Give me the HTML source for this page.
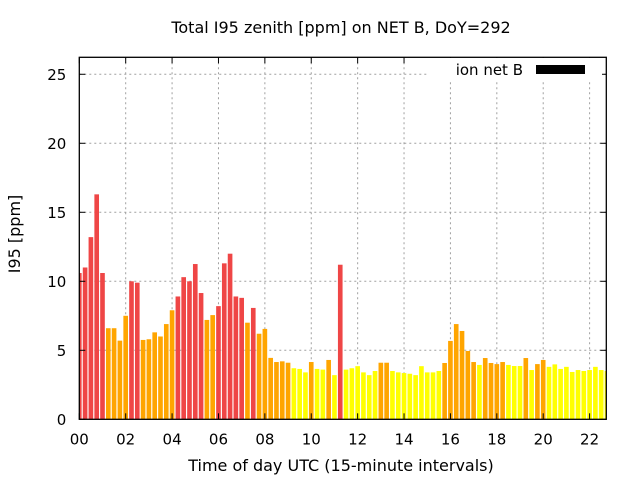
<!DOCTYPE html>
<html><head><meta charset="utf-8"><style>
body{margin:0;background:#fff;}
svg{display:block;font-family:"DejaVu Sans","Liberation Sans",sans-serif;}
</style></head><body>
<svg id="chart" width="640" height="480" viewBox="0 0 640 480">
<rect width="640" height="480" fill="#fff"/>
<text x="341" y="33" text-anchor="middle" font-size="16">Total I95 zenith [ppm] on NET B, DoY=292</text>
<text x="341" y="471" text-anchor="middle" font-size="16">Time of day UTC (15-minute intervals)</text>
<text transform="translate(20,234) rotate(-90)" text-anchor="middle" font-size="16">I95 [ppm]</text>
<g id="grid"></g>
<g id="bars"></g>
<g id="axes"></g>
</svg>
<script>
const values = [10.6,11.0,13.2,16.3,10.6,6.6,6.6,5.7,7.5,10.0,9.9,5.75,5.8,6.3,6.0,6.9,7.9,8.9,10.3,10.0,11.25,9.15,7.2,7.55,8.2,11.3,12.0,8.9,8.8,7.0,8.07,6.2,6.55,4.45,4.15,4.2,4.1,3.7,3.65,3.4,4.15,3.65,3.6,4.3,3.2,11.2,3.6,3.7,3.85,3.4,3.2,3.5,4.1,4.1,3.5,3.4,3.35,3.3,3.2,3.85,3.4,3.4,3.5,4.08,5.68,6.9,6.4,4.95,4.15,3.94,4.44,4.08,4.0,4.15,3.94,3.86,3.86,4.44,3.57,4.0,4.3,3.8,3.98,3.65,3.8,3.43,3.57,3.5,3.57,3.8,3.57,3.5];
const xTicks = [0,2,4,6,8,10,12,14,16,18,20,22];
const xTickLabels = ["00","02","04","06","08","10","12","14","16","18","20","22"];
const yTicks = [0,5,10,15,20,25];
const xMin = 0, xMax = 22.72, yMin = 0, yMax = 26.23;
const L = 79.3, R = 606.3, T = 57.3, B = 419.3;
const NS = "http://www.w3.org/2000/svg";
function xs(h){return L + (h - xMin) / (xMax - xMin) * (R - L);}
function ys(v){return B - (v - yMin) / (yMax - yMin) * (B - T);}
function mk(tag, attrs, parent){const e=document.createElementNS(NS,tag);for(const k in attrs)e.setAttribute(k,attrs[k]);parent.appendChild(e);return e;}
const grid=document.getElementById('grid'), bars=document.getElementById('bars'), axes=document.getElementById('axes');
yTicks.forEach(v=>{
  if(v>0){const g=mk('line',{x1:L,x2:R,y1:ys(v),y2:ys(v),stroke:'#a0a0a0','stroke-dasharray':'2,3','stroke-width':1},grid);
  
  }
  const t=mk('text',{x:L-13,y:ys(v)+5.5,'text-anchor':'end','font-size':15},axes);
  t.textContent=v;
  
  
  mk('line',{x1:L,x2:L+6,y1:ys(v),y2:ys(v),stroke:'#000'},axes);
  mk('line',{x1:R,x2:R-6,y1:ys(v),y2:ys(v),stroke:'#000'},axes);
});
xTicks.forEach((h,i)=>{
  if(h>0){const g=mk('line',{x1:xs(h),x2:xs(h),y1:T,y2:B,stroke:'#a0a0a0','stroke-dasharray':'2,3','stroke-width':1},grid);
  
  }
  const t=mk('text',{x:xs(h),y:B+25,'text-anchor':'middle','font-size':15},axes);
  t.textContent=xTickLabels[i];
  
  
  mk('line',{x1:xs(h),x2:xs(h),y1:B,y2:B-6,stroke:'#000'},axes);
  mk('line',{x1:xs(h),x2:xs(h),y1:T,y2:T+6,stroke:'#000'},axes);
});
const clip=mk('clipPath',{id:'pc'},bars); mk('rect',{x:L,y:T,width:R-L,height:B-T},clip);
bars.setAttribute('clip-path','url(#pc)');
const bw = 0.8*0.25*(R-L)/(xMax-xMin);
values.forEach((v,i)=>{
  const c = v>=8 ? '#ef4646' : (v>=4 ? '#ffa500' : '#ffff00');
  const r=mk('rect',{x:xs(i*0.25)-bw/2,y:ys(v),width:bw,height:B-ys(v),fill:c},bars);
  
  
});
const lb=mk('rect',{x:427,y:58,width:175,height:22,fill:'#fff'},axes);


const lt=mk('text',{x:523,y:75,'text-anchor':'end','font-size':15},axes);
lt.textContent='ion net B';


const lk=mk('rect',{x:536,y:65,width:49,height:9,fill:'#000'},axes);


const fr=mk('rect',{x:L,y:T,width:R-L,height:B-T,fill:'none',stroke:'#000','stroke-width':1.3},axes);


</script>
</body></html>
